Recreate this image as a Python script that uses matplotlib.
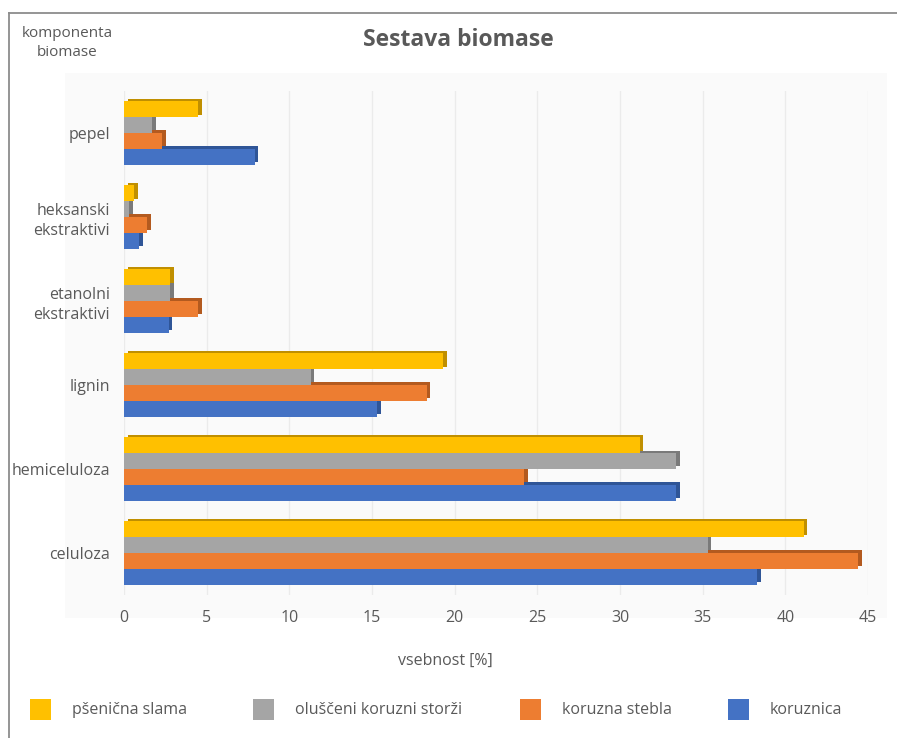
import matplotlib
matplotlib.use("Agg")
import matplotlib.pyplot as plt
from matplotlib.patches import Rectangle
from matplotlib.lines import Line2D
import numpy as np

plt.rcParams['font.family'] = ['Open Sans', 'DejaVu Sans']

categories = ['celuloza', 'hemiceluloza', 'lignin', 'etanolni\nekstraktivi',
              'heksanski\nekstraktivi', 'pepel']
series = ['pšenična slama', 'oluščeni koruzni storži', 'koruzna stebla', 'koruznica']
psenicna_slama = [41.1, 31.2, 19.3, 2.8, 0.6, 4.5]
oluscheni_storzi = [35.3, 33.4, 11.3, 2.8, 0.3, 1.7]
koruzna_stebla = [44.4, 24.2, 18.3, 4.5, 1.4, 2.3]
koruznica = [38.3, 33.4, 15.3, 2.7, 0.9, 7.9]
xticks = [0, 5, 10, 15, 20, 25, 30, 35, 40, 45]

values = [psenicna_slama, oluscheni_storzi, koruzna_stebla, koruznica]
colors = ['#FFC000', '#A5A5A5', '#ED7D31', '#4472C4']
dark = ['#C08F00', '#7A7A7A', '#B35A1F', '#2F5597']
txt = '#595959'

fig = plt.figure(figsize=(8.97, 7.38), dpi=100)
W, H = 897, 738

# faint plot area background
fig.patches.append(Rectangle((65 / W, 1 - 618 / H), (887 - 65) / W, (618 - 73) / H,
                             transform=fig.transFigure, facecolor='#fafafa',
                             edgecolor='none', zorder=-5))
# outer frame (top and left)
fig.lines.append(Line2D([9 / W, 1], [1 - 13 / H, 1 - 13 / H], transform=fig.transFigure,
                        color='#8c8c8c', lw=1.3))
fig.lines.append(Line2D([9 / W, 9 / W], [1 - 13 / H, 0], transform=fig.transFigure,
                        color='#8c8c8c', lw=1.3))

ax = fig.add_axes([124 / W, 1 - 595 / H, (868 - 124) / W, (595 - 91) / H])
ax.set_facecolor('none')
ax.set_zorder(2)

y = np.arange(len(categories))
h = 0.19
offsets = [1.5 * h, 0.5 * h, -0.5 * h, -1.5 * h]

# depth (3d-like) faces first, then front faces
for vals, off, dc in zip(values, offsets, dark):
    ax.barh(y + off + 0.03, vals, height=h, left=0.22, color=dc, zorder=2)
for vals, off, c in zip(values, offsets, colors):
    ax.barh(y + off, vals, height=h, color=c, zorder=3)

ax.set_xlim(0, 45)
ax.set_ylim(-0.5, len(categories) - 0.5)
ax.set_xticks(xticks)
ax.set_yticks(y)
ax.set_yticklabels(categories, linespacing=1.35)
ax.tick_params(length=0, labelsize=11.5, colors=txt, pad=10)
ax.tick_params(axis='x', pad=11)
ax.xaxis.grid(True, color='#ebebeb', lw=1)
ax.set_axisbelow(True)
for s in ax.spines.values():
    s.set_visible(False)

fig.text(458 / W, 1 - 40 / H, 'Sestava biomase', ha='center', va='center',
         fontsize=16.5, fontweight='bold', color=txt)
fig.text(67 / W, 1 - 43 / H, 'komponenta\nbiomase', ha='center', va='center',
         fontsize=11, color=txt, linespacing=1.3)
fig.text(445 / W, 1 - 661 / H, 'vsebnost [%]', ha='center', va='center',
         fontsize=11.5, color=txt)

# legend
leg_x = [30, 253, 520, 728]
for lx, c, name in zip(leg_x, colors, series):
    fig.patches.append(Rectangle((lx / W, 1 - 720 / H), 21 / W, 21 / H,
                                 transform=fig.transFigure, facecolor=c,
                                 edgecolor='none'))
    fig.text((lx + 42) / W, 1 - 710 / H, name, ha='left', va='center',
             fontsize=11.5, color=txt)

fig.savefig('out.png', dpi=100)
